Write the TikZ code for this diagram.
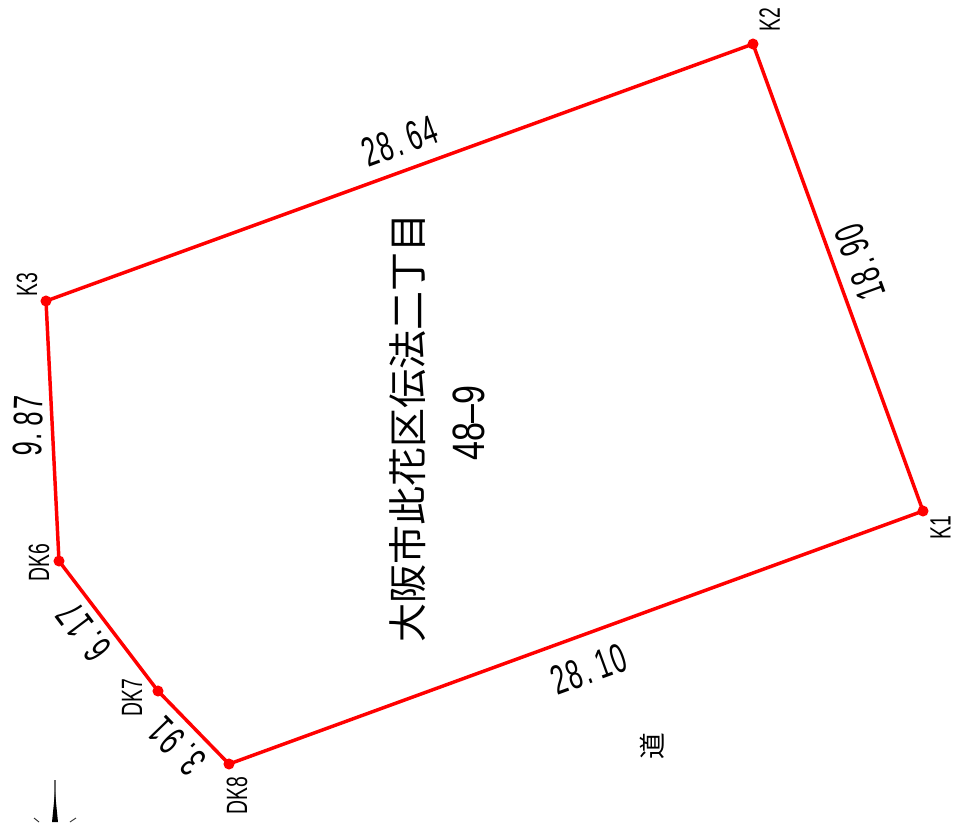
\documentclass[tikz,border=0pt]{standalone}
\usepackage{fontspec}
\setmainfont{Liberation Sans}
\newfontfamily\jpfont{Noto Sans CJK JP}
\newfontfamily\dimfont[LetterSpace=8,Kerning=Off]{Liberation Sans}
\newcommand{\narrowtxt}[2]{\scalebox{#1}[1]{#2}}
\newcommand{\dimtxt}[2]{\scalebox{0.62}[1]{#1.\hspace{0.27em}#2}}
\tikzset{
  x=0.75pt,y=-0.75pt,
  boundary/.style={draw={rgb,255:red,255;green,0;blue,0},line width=2.6pt},
  pt/.style={circle,fill={rgb,255:red,255;green,0;blue,0},inner sep=0pt,minimum size=8.3pt},
  ptlabel/.style={inner sep=0pt,font=\fontsize{22pt}{22pt}\selectfont},
  dimlabel/.style={inner sep=0pt,font=\dimfont\fontsize{31pt}{31pt}\selectfont},
  addr/.style={inner sep=0pt,font=\jpfont\fontsize{29.3pt}{29.3pt}\selectfont},
  lot/.style={inner sep=0pt,font=\fontsize{34pt}{34pt}\selectfont},
  road/.style={inner sep=0pt,font=\jpfont\fontsize{20pt}{20pt}\selectfont},
}
\begin{document}
\begin{tikzpicture}
\useasboundingbox (0,0) rectangle (955,822);
\fill[white] (0,0) rectangle (955,822);
\node[pt] (k1) at (923,511) {};
\node[pt] (k2) at (753,44) {};
\node[pt] (k3) at (46,301) {};
\node[pt] (dk6) at (59,561) {};
\node[pt] (dk7) at (158,691) {};
\node[pt] (dk8) at (229,764) {};
\draw[boundary,line join=round] (k1.center) -- (k2.center) -- (k3.center) -- (dk6.center) -- (dk7.center) -- (dk8.center) -- cycle;
\node[ptlabel,rotate=90] (lk1) at (940.5,528) {\narrowtxt{0.66}{K1}};
\node[ptlabel,rotate=90] (lk2) at (769.5,19.5) {\narrowtxt{0.66}{K2}};
\node[ptlabel,rotate=90] (lk3) at (27,285) {\narrowtxt{0.66}{K3}};
\node[ptlabel,rotate=90] (ldk6) at (39,563) {\narrowtxt{0.66}{DK6}};
\node[ptlabel,rotate=90] (ldk7) at (132,698) {\narrowtxt{0.66}{DK7}};
\node[ptlabel,rotate=90] (ldk8) at (237,796) {\narrowtxt{0.66}{DK8}};
\node[dimlabel,rotate=20] (d1) at (400,141) {\dimtxt{28}{64}};
\node[dimlabel,rotate=110] (d2) at (860,262) {\dimtxt{18}{90}};
\node[dimlabel,rotate=88] (d3) at (28,426) {\dimtxt{9}{87}};
\node[dimlabel,rotate=127] (d4) at (84,632) {\dimtxt{6}{17}};
\node[dimlabel,rotate=134] (d5) at (177,746) {\dimtxt{3}{91}};
\node[dimlabel,rotate=20] (d6) at (589,669) {\dimtxt{28}{10}};
\node[addr,rotate=90] (addr) at (408,428) {大阪市此花区伝法二丁目};
\node[lot,rotate=90] (lot) at (469,423) {\narrowtxt{0.75}{48–9}};
\node[road,rotate=90] (road) at (652.5,746) {道};
\coordinate (na) at (55,780);
\coordinate (nb) at (55,800);
\draw[black!60,line width=0.8pt] (na) -- (nb);
\fill[black] (55,792) -- (52,822) -- (58,822) -- cycle;
\draw[black!80,line width=0.7pt] (34,818) -- (39,822) (76,818) -- (70,822);
\end{tikzpicture}
\end{document}
